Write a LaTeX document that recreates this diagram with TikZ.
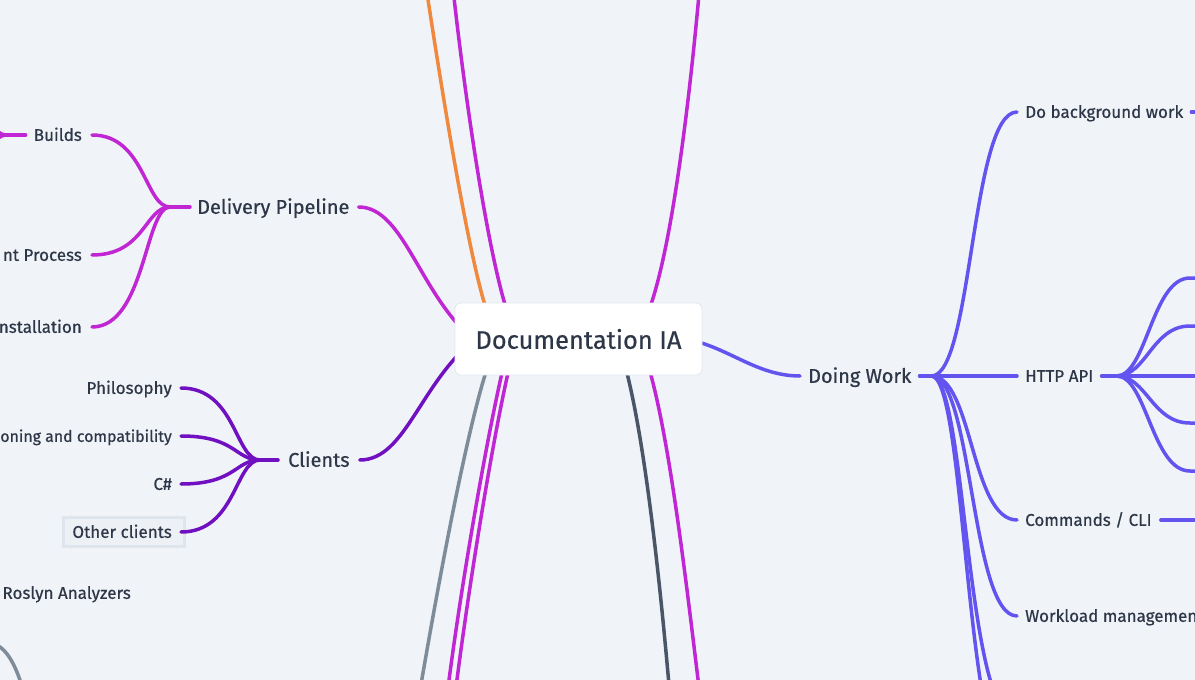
\documentclass[tikz,border=0pt]{standalone}
\usepackage{fontspec}
\setmainfont{Fira Sans}[FakeBold=0.6]
\usetikzlibrary{calc}
\pgfdeclarelayer{bglayer}
\pgfdeclarelayer{linklayer}
\pgfsetlayers{bglayer,linklayer,main}
\definecolor{bgc}{HTML}{F0F4F8}
\definecolor{txt}{HTML}{2D3748}
\definecolor{magc}{HTML}{C026D3}
\definecolor{orc}{HTML}{F0883E}
\definecolor{vioc}{HTML}{7010C0}
\definecolor{indc}{HTML}{6354F0}
\definecolor{glc}{HTML}{7E8C9A}
\definecolor{gdc}{HTML}{4A5568}
\definecolor{rootborder}{HTML}{E2E8F0}
\definecolor{oboxfill}{HTML}{EDF1F5}
\definecolor{oboxdraw}{HTML}{DFE5EC}
\tikzset{
  link/.style={line width=3.5pt,line cap=round},
  leaf/.style={font=\fontsize{17}{20}\selectfont,text=txt,inner sep=0pt,text height=11.7pt,text depth=0pt},
  leafsmall/.style={leaf,font=\fontsize{15.9}{20}\selectfont},
  midnode/.style={font=\fontsize{19.9}{23}\selectfont,text=txt,inner sep=0pt,text height=13.6pt,text depth=0pt},
  rootbox/.style={font=\fontsize{25.4}{29}\selectfont,text=txt,fill=white,draw=rootborder,line width=0.8pt,rounded corners=6pt,minimum width=247pt,minimum height=72pt,inner sep=0pt},
  obox/.style={fill=oboxfill,draw=oboxdraw,line width=3pt}
}
\begin{document}
\begin{tikzpicture}[x=1pt,y=-1pt]
\useasboundingbox (0,0) rectangle (1195,680);
\begin{pgfonlayer}{bglayer}
\fill[bgc] (0,0) rectangle (1195,680);
\end{pgfonlayer}

% nodes
\node[rootbox] (root) at (578.5,339) {Documentation IA};
\node[leaf,anchor=east] (builds) at (82,135) {Builds};
\node[leaf,anchor=east] (dproc) at (82,255) {nt Process};
\node[leaf,anchor=east] (inst) at (82,327) {nstallation};
\node[midnode,anchor=west] (dp) at (197,207) {Delivery Pipeline};
\node[leaf,anchor=east] (phil) at (172,388) {Philosophy};
\node[leafsmall,anchor=east] (vers) at (172,436) {oning and compatibility};
\node[leaf,anchor=east] (cs) at (172,484) {C\#};
\node[leaf,anchor=east] (oc) at (172,532) {Other clients};
\node[midnode,anchor=west] (cl) at (288,460) {Clients};
\node[leaf,anchor=east] (ros) at (131,593) {Roslyn Analyzers};
\node[midnode,anchor=west] (dw) at (808,376) {Doing Work};
\node[leaf,anchor=west] (dbw) at (1025,112) {Do background work};
\node[leaf,anchor=west] (http) at (1025,376) {HTTP API};
\node[leaf,anchor=west] (cmd) at (1025,520) {Commands / CLI};
\node[leaf,anchor=west] (wl) at (1025,616) {Workload managemen};

% off-screen ends
\coordinate (offO) at (422,-40);
\coordinate (offM1) at (450,-40);
\coordinate (offM2) at (702,-40);
\coordinate (offG) at (415,720);
\coordinate (offM3) at (444,720);
\coordinate (offM4) at (452,720);
\coordinate (offS) at (672,720);
\coordinate (offM5) at (703,720);
\coordinate (offD1) at (1017,780);
\coordinate (offD2) at (1017,720);
\coordinate (hc1) at (1190,278);
\coordinate (hc2) at (1190,326);
\coordinate (hc4) at (1190,423);
\coordinate (hc5) at (1190,471);
\coordinate (hc3) at (1215,376);
\coordinate (bj) at (6,135);
\coordinate (bc1) at (-25,118);
\coordinate (bc2) at (-25,152);
\coordinate (gbl1) at (-20,641);
\coordinate (gbl2) at (26,700);
\coordinate (cmdR) at (1215,520);
\coordinate (dbwR) at (1215,112);

\begin{pgfonlayer}{linklayer}
\clip (0,0) rectangle (1195,680);
% root branches
\draw[link,orc] ($(root.center)+(-88.5,-19)$) .. controls (470,270) and (440,80) .. (offO);
\draw[link,magc] ($(root.center)+(-68.5,-19)$) .. controls (488,260) and (462,80) .. (offM1);
\draw[link,magc] ($(root.center)+(66.5,-19)$) .. controls (672,260) and (692,80) .. (offM2);
\draw[link,glc] ($(root.center)+(-88.5,21)$) .. controls (468,420) and (435,600) .. (offG);
\draw[link,magc] ($(root.center)+(-73.5,21)$) .. controls (488,430) and (458,600) .. (offM3);
\draw[link,magc] ($(root.center)+(-67.5,21)$) .. controls (494,430) and (466,600) .. (offM4);
\draw[link,gdc] ($(root.center)+(43.5,16)$) .. controls (645,430) and (662,600) .. (offS);
\draw[link,magc] ($(root.center)+(66.5,16)$) .. controls (670,430) and (688,600) .. (offM5);
\draw[link,magc] ([xshift=9pt]dp.east) .. controls +(47,0) and (420,300) .. ($(root.center)+(-98.5,6)$);
\draw[link,vioc] ([xshift=10pt]cl.east) .. controls +(47,0) and (420,380) .. ($(root.center)+(-98.5,-4)$);
\draw[link,indc] ($(root.center)+(91.5,-1)$) .. controls (720,338) and (750,376) .. ([xshift=-8pt]dw.west);

% Delivery Pipeline children
\draw[link,magc] ([xshift=-7pt]dp.west) -- ++(-20,0) coordinate (dpj);
\foreach \n in {builds,dproc,inst}
  \draw[link,magc] (dpj) .. controls +(-25,0) and +(53,0) .. ([xshift=10pt]\n.east);
\draw[link,magc] ([xshift=-8pt]builds.west) -- (bj);
\draw[link,magc] (bj) .. controls +(-10,0) and +(12,0) .. (bc1);
\draw[link,magc] (bj) .. controls +(-10,0) and +(12,0) .. (bc2);

% Clients children
\draw[obox] ([xshift=-9pt,yshift=-8pt]oc.south west) rectangle ([xshift=12pt,yshift=8pt]oc.north east);
\draw[link,vioc] ([xshift=-10pt]cl.west) -- ++(-18,0) coordinate (clj);
\foreach \n in {phil,vers,cs,oc}
  \draw[link,vioc] (clj) .. controls +(-25,0) and +(55,0) .. ([xshift=9pt]\n.east);

% Roslyn area
\draw[link,glc] (gbl1) .. controls (2,641) and (14,655) .. (gbl2);

% Doing Work children
\draw[link,indc] ([xshift=8pt]dw.east) -- ++(12,0) coordinate (dwj);
\draw[link,indc] (dwj) -- ([xshift=-8pt]http.west);
\foreach \n in {dbw,cmd,wl}
  \draw[link,indc] (dwj) .. controls +(41,0) and +(-46,0) .. ([xshift=-8pt]\n.west);
\draw[link,indc] (dwj) .. controls +(35,0) and +(-52,0) .. (offD1);
\draw[link,indc] (dwj) .. controls +(35,0) and +(-52,0) .. (offD2);
\draw[link,indc] ([xshift=8pt]dbw.east) -- (dbwR);
\draw[link,indc] ([xshift=9pt]cmd.east) -- (cmdR);

% HTTP API children
\draw[link,indc] ([xshift=8pt]http.east) -- ++(15,0) coordinate (hj);
\draw[link,indc] (hj) -- (hc3);
\foreach \n in {hc1,hc2,hc4,hc5}
  \draw[link,indc] (hj) .. controls +(30,0) and +(-38,0) .. (\n) -- ++(25,0);
\end{pgfonlayer}
\end{tikzpicture}
\end{document}
